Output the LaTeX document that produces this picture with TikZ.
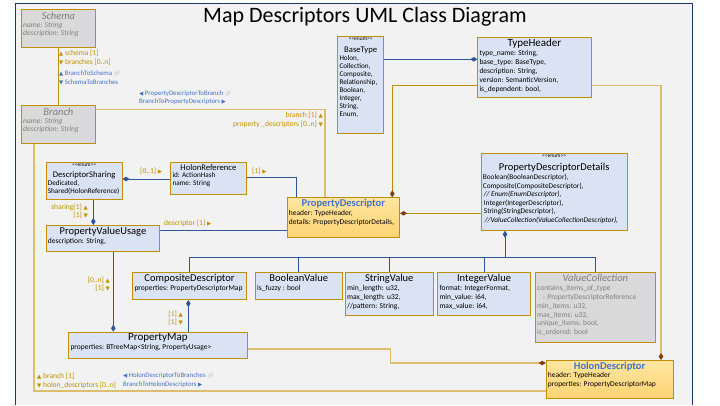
\documentclass[tikz,border=0pt]{standalone}
\usepackage{fontspec}
\setmainfont{Carlito}
\newfontfamily\symf{DejaVu Sans}
\newfontfamily\emojif{Noto Emoji}
\usetikzlibrary{arrows.meta,calc}
\definecolor{umlgold}{HTML}{BF9000}
\definecolor{linetan}{HTML}{DDBE6E}
\definecolor{lineblue}{HTML}{2F5597}
\definecolor{labblue}{HTML}{4472C4}
\definecolor{umlbrown}{HTML}{843C0C}
\definecolor{boxblue}{HTML}{DAE3F3}
\definecolor{boxgray}{HTML}{D9D9D9}
\definecolor{txtgray}{HTML}{808080}
\definecolor{bggray}{HTML}{F2F2F2}
\definecolor{navy}{HTML}{1F3864}
\definecolor{orgtop}{HTML}{FFE6A0}
\definecolor{orgbot}{HTML}{FFD373}
\newcommand\tup{{\symf\fontsize{5.5}{6}\selectfont ▲}}
\newcommand\tdn{{\symf\fontsize{5.5}{6}\selectfont ▼}}
\newcommand\tlf{{\symf\fontsize{5.5}{6}\selectfont ◀}}
\newcommand\trt{{\symf\fontsize{5.5}{6}\selectfont ▶}}
\newcommand\lnk{{\color{lightgray}\emojif\fontsize{5.5}{6}\selectfont 🔗}}
\newcommand\enumtxt{{<}{<}enum{>}{>}}
\newcommand\umlbox[6]{\node[#6, minimum width=#4pt, minimum height=#5pt, anchor=north west] (#1) at (#2,#3) {};}
\tikzset{
  box/.style={draw=umlgold, line width=0.8pt, fill=boxblue, inner sep=0},
  graybox/.style={box, fill=boxgray},
  orangebox/.style={draw=umlgold, line width=0.8pt, top color=orgtop, bottom color=orgbot, inner sep=0},
  ttl/.style={inner sep=0, font=\fontsize{10.5}{11}\selectfont, text=black},
  sttl/.style={inner sep=0, font=\fontsize{8.6}{9}\selectfont, text=black},
  attr/.style={inner sep=0, anchor=north west, align=left, font=\fontsize{7.5}{8.8}\selectfont},
  enumtag/.style={inner sep=0, font=\fontsize{5.5}{6}\selectfont},
  lab/.style={inner sep=0, font=\fontsize{7.5}{8}\selectfont, text=umlgold},
  blab/.style={inner sep=0, font=\fontsize{6.8}{7}\selectfont, text=labblue},
  bl/.style={draw=lineblue, line width=0.8pt},
  gl/.style={draw=umlgold, line width=0.8pt},
  tl/.style={draw=linetan, line width=1.3pt},
  bdia/.tip={Diamond[length=7pt,width=4.5pt,color=lineblue]},
  rdia/.tip={Diamond[length=7pt,width=4.5pt,color=umlbrown]},
}
\begin{document}
\begin{tikzpicture}[x=1pt,y=-1pt]
\useasboundingbox (0,0) rectangle (720,405);
\fill[white] (0,0) rectangle (720,405);
\fill[bggray] (15,3) rectangle (692,405);
\draw[navy, line width=1pt] (15,405) -- (15,3) -- (692,3) -- (692,405);
\node[inner sep=0, font=\fontsize{22}{24}\selectfont] (title) at (365,17) {Map Descriptors UML Class Diagram};

% ---------- boxes ----------
\umlbox{Schema}{21}{9.3}{74}{37.4}{graybox}
\node[ttl, text=txtgray] (SchemaT) at ($(Schema.north)+(0,6.5)$) {\itshape Schema};
\node[attr, text=txtgray] (SchemaA) at ($(Schema.north west)+(2,12.5)$) {\itshape name: String\\\itshape description: String};

\umlbox{Branch}{21}{105.3}{74}{37.4}{graybox}
\node[ttl, text=txtgray] (BranchT) at ($(Branch.north)+(0,6.5)$) {\itshape Branch};
\node[attr, text=txtgray] (BranchA) at ($(Branch.north west)+(2,12.5)$) {\itshape name: String\\\itshape description: String};

\umlbox{BT}{337.3}{36.3}{46}{97}{box}
\node[enumtag] (BTe) at ($(BT.north)+(0,3.2)$) {\enumtxt};
\node[sttl] (BTT) at ($(BT.north)+(0,13.7)$) {BaseType};
\node[attr, font=\fontsize{7.2}{8}\selectfont] (BTA) at ($(BT.north west)+(2,19)$) {Holon,\\Collection,\\Composite,\\Relationship,\\Boolean,\\Integer,\\String,\\Enum,};

\umlbox{TH}{477.3}{37.3}{113.4}{60}{box}
\node[ttl, font=\fontsize{11}{12}\selectfont] (THT) at ($(TH.north)+(0,6.7)$) {TypeHeader};
\node[attr, font=\fontsize{7.5}{9.2}\selectfont] (THA) at ($(TH.north west)+(2,12.5)$) {type\_name: String,\\base\_type: BaseType,\\description: String,\\version: SemanticVersion,\\is\_dependent: bool,};

\umlbox{PD}{286.7}{197.3}{112.6}{40}{orangebox}
\node[ttl, text=labblue, font=\fontsize{10.5}{11}\selectfont\bfseries] (PDT) at ($(PD.north)+(0,6.7)$) {PropertyDescriptor};
\node[attr] (PDA) at ($(PD.north west)+(2,12.5)$) {header: TypeHeader,\\details: PropertyDescriptorDetails,};

\umlbox{PDD}{480.7}{152.7}{146}{77.3}{box}
\node[enumtag] (PDDe) at ($(PDD.north)+(0,3.3)$) {\enumtxt};
\node[ttl] (PDDT) at ($(PDD.north)+(0,15)$) {PropertyDescriptorDetails};
\node[attr, font=\fontsize{7.3}{8.5}\selectfont] (PDDA) at ($(PDD.north west)+(2,21.5)$) {Boolean(BooleanDescriptor),\\Composite(CompositeDescriptor),\\\hspace*{1pt}\itshape // Enum(EnumDescriptor),\\\hspace*{1pt}Integer(IntegerDescriptor),\\\hspace*{1pt}String(StringDescriptor),\\\hspace*{2pt}\itshape //ValueCollection(ValueCollectionDescriptor),};

\umlbox{DS}{45.7}{162.3}{76}{37}{box}
\node[enumtag] (DSe) at ($(DS.north)+(0,3)$) {\enumtxt};
\node[sttl] (DST) at ($(DS.north)+(0,13.4)$) {DescriptorSharing};
\node[attr, font=\fontsize{7.2}{8}\selectfont] (DSA) at ($(DS.north west)+(2,18.3)$) {Dedicated,\\Shared(HolonReference)};

\umlbox{HR}{170.3}{162.3}{75.4}{32}{box}
\node[sttl] (HRT) at ($(HR.north)+(0,5)$) {HolonReference};
\node[attr, font=\fontsize{7.2}{8}\selectfont] (HRA) at ($(HR.north west)+(2,10.3)$) {id: ActionHash\\name: String};

\umlbox{PVU}{45.7}{225}{113.6}{25.7}{box}
\node[ttl] (PVUT) at ($(PVU.north)+(0,6.7)$) {PropertyValueUsage};
\node[attr] (PVUA) at ($(PVU.north west)+(2,13.5)$) {description: String,};

\umlbox{CD}{132.3}{272.3}{113.7}{27}{box}
\node[ttl] (CDT) at ($(CD.north)+(0,6)$) {CompositeDescriptor};
\node[attr] (CDA) at ($(CD.north west)+(2,13)$) {properties: PropertyDescriptorMap};

\umlbox{BV}{255}{272.3}{86.7}{27}{box}
\node[ttl] (BVT) at ($(BV.north)+(0,6)$) {BooleanValue};
\node[attr] (BVA) at ($(BV.north west)+(2,13)$) {is\_fuzzy : bool};

\umlbox{SV}{345}{272.3}{87.7}{42.7}{box}
\node[ttl] (SVT) at ($(SV.north)+(0,6)$) {StringValue};
\node[attr] (SVA) at ($(SV.north west)+(2,13)$) {min\_length: u32,\\max\_length: u32,\\//pattern: String,};

\umlbox{IV}{437.3}{272.3}{92.7}{42.7}{box}
\node[ttl] (IVT) at ($(IV.north)+(0,6)$) {IntegerValue};
\node[attr] (IVA) at ($(IV.north west)+(2,13)$) {format: IntegerFormat,\\min\_value: i64,\\max\_value: i64,};

\umlbox{VC}{535}{272.3}{120}{70}{graybox}
\node[ttl, text=txtgray] (VCT) at ($(VC.north)+(0,6)$) {\itshape ValueCollection};
\node[attr, text=txtgray] (VCA) at ($(VC.north west)+(2,13)$) {contains\_items\_of\_type\\\hspace*{6pt}: PropertyDescriptorReference\\min\_items: u32,\\max\_items: u32,\\unique\_items: bool,\\is\_ordered: bool};

\umlbox{PM}{68.3}{331.7}{178.4}{26.6}{box}
\node[ttl, font=\fontsize{11}{12}\selectfont] (PMT) at ($(PM.north)+(0,6)$) {PropertyMap};
\node[attr] (PMA) at ($(PM.north west)+(2,12.5)$) {properties: BTreeMap<String, PropertyUsage>};

\umlbox{HD}{545.7}{360}{127}{38}{orangebox}
\node[ttl, text=labblue, font=\fontsize{10.5}{11}\selectfont\bfseries] (HDT) at ($(HD.north)+(0,6.5)$) {HolonDescriptor};
\node[attr] (HDA) at ($(HD.north west)+(2,12.5)$) {header: TypeHeader\\properties: PropertyDescriptorMap};

% ---------- connectors ----------
\draw[gl] (Schema.south) -- (Branch.north);

\coordinate (brR) at ($(Branch.north east)+(0,4)$);
\coordinate (pdTb) at ($(PD.north west)+(38.3,0)$);
\draw[tl] (brR) -| (pdTb);

\coordinate (brB) at ($(Branch.south west)+(13,0)$);
\coordinate (hdLb) at ($(HD.north west)+(0,31)$);
\draw[tl] (brB) |- (hdLb);

\coordinate (thL) at ($(TH.north west)+(0,22)$);
\draw[bl, {bdia}-] (thL) -- (thL -| BT.east);

\coordinate (thL2) at ($(TH.north west)+(0,48.5)$);
\coordinate (pdT) at ($(PD.north west)+(105.6,0)$);
\draw[gl, -{rdia}] (thL2) -| (pdT);

\coordinate (thR) at ($(TH.north east)+(0,48.5)$);
\coordinate (hdT) at ($(HD.north west)+(115.3,0)$);
\draw[tl, -{rdia}] (thR) -| (hdT);

\coordinate (pdR) at ($(PD.north east)+(0,16)$);
\draw[gl, {rdia}-] (pdR) -- (pdR -| PDD.west);

\coordinate (pddB) at ($(PDD.south west)+(24.3,0)$);
\coordinate (bus) at ($(pddB)+(0,27)$);
\draw[bl, {bdia}-] (pddB) -- (bus);
\foreach \n in {CD,BV,SV,IV,VC} \draw[bl] (\n.north) |- (bus);

\coordinate (hrL) at ($(HR.north west)+(0,16.7)$);
\draw[bl, -{bdia}] (hrL) -- (hrL -| DS.east);

\coordinate (hrR) at ($(HR.north east)+(0,15)$);
\coordinate (pdT2) at ($(PD.north west)+(10,0)$);
\draw[bl] (hrR) -| (pdT2);

\coordinate (dsB) at ($(DS.south west)+(47.6,0)$);
\draw[bl, -{bdia}] (dsB) -- (dsB |- PVU.north);

\coordinate (pdL) at ($(PD.north west)+(0,33.4)$);
\draw[bl] (pdL -| PVU.east) -- (pdL);

\coordinate (pvuB) at ($(PVU.south west)+(67.6,0)$);
\draw[bl, -{bdia}] (pvuB) -- (pvuB |- PM.north);

\coordinate (cdB) at ($(CD.south west)+(56,0)$);
\draw[bl, {bdia}-] (cdB) -- (cdB |- PM.north);

\coordinate (pmR) at ($(PM.north east)+(0,17.3)$);
\coordinate (pmK) at ($(pmR)+(143.3,0)$);
\coordinate (hdL) at ($(HD.north west)+(0,3)$);
\draw[tl, -{rdia}] (pmR) -- (pmK) |- (hdL);

% ---------- labels ----------
\node[lab, anchor=west] (l1) at (59,53) {\tup\ schema [1]};
\node[lab, anchor=west] (l2) at (59,62) {\tdn\ branches [0..n]};
\node[blab, anchor=west] (l3) at (59,74) {\tup\ BranchToSchema \lnk};
\node[blab, anchor=west] (l4) at (59,82) {\tdn\ SchemaToBranches};
\node[blab, anchor=west] (l5) at (139,94) {\tlf\ PropertyDescriptorToBranch \lnk};
\node[blab, anchor=west] (l6) at (139,102) {BranchToPropertyDescriptors \trt};
\node[lab, anchor=east] (l7) at (323,115) {branch [1] \tup};
\node[lab, anchor=east] (l8) at (323,124) {property \_descriptors [0..n] \tdn};
\node[lab, anchor=west] (l9) at (140,171) {[0..1] \trt};
\node[lab, anchor=west] (l10) at (252,171) {[1] \trt};
\node[lab, anchor=east] (l11) at (88,207) {sharing[1] \tup};
\node[lab, anchor=east] (l12) at (88,215.5) {[1] \tdn};
\node[lab, anchor=west] (l13) at (164,223) {descriptor [1] \trt};
\node[lab, anchor=east] (l14) at (110,280) {[0..n] \tup};
\node[lab, anchor=east] (l15) at (110,288.5) {[1] \tdn};
\node[lab, anchor=east] (l16) at (183,314) {[1] \tup};
\node[lab, anchor=east] (l17) at (183,322.5) {[1] \tdn};
\node[lab, anchor=west] (l18) at (37,376) {\tup\ branch [1]};
\node[lab, anchor=west] (l19) at (37,385) {\tdn\ holon\_descriptors [0..n]};
\node[blab, anchor=west] (l20) at (123,376) {\tlf\ HolonDescriptorToBranches \lnk};
\node[blab, anchor=west] (l21) at (123,385) {BranchToHolonDescriptors \trt};
\end{tikzpicture}
\end{document}
